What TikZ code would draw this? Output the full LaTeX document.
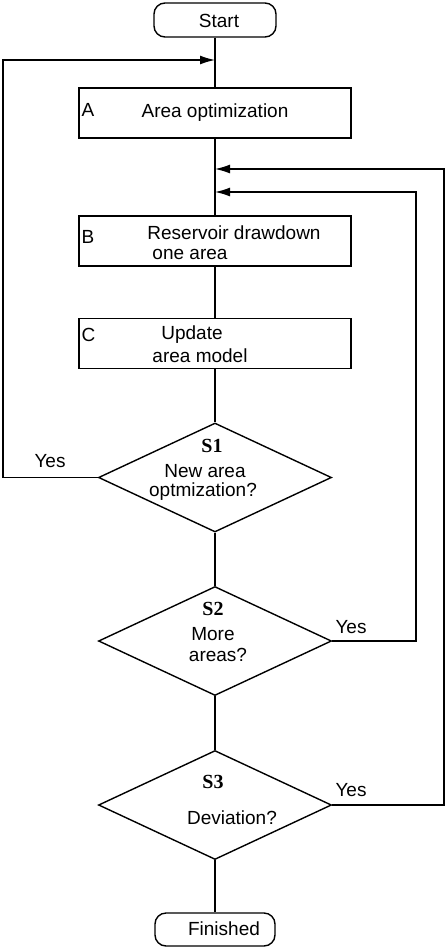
\documentclass[tikz,border=0pt]{standalone}
\usepackage{fontspec}
\setmainfont{Liberation Sans}
\newfontfamily\serifbold{Liberation Serif}
\usetikzlibrary{arrows.meta,shapes.geometric}
\begin{document}
\begin{tikzpicture}[x=1pt,y=-1pt,
  line width=1.4pt,
  every node/.style={font=\fontsize{19}{22}\selectfont},
  term/.style={draw, rectangle, rounded corners=11pt, minimum width=122pt, minimum height=34pt, inner sep=0pt},
  procbox/.style={draw, rectangle, minimum width=272pt, minimum height=50pt, inner sep=0pt},
  decision/.style={draw, diamond, minimum width=233pt, minimum height=109pt, inner sep=0pt},
  txt/.style={inner sep=0pt},
  slabel/.style={inner sep=0pt, font=\serifbold\bfseries\fontsize{20}{22}\selectfont},
  arr/.style={-{Latex[length=15pt,width=9pt]}}
]
\useasboundingbox (0,0) rectangle (446,948);
% shapes
\node[term] (start) at (215,20) {};
\node[procbox] (A) at (215,113) {};
\node[procbox] (B) at (215,241) {};
\node[procbox] (C) at (215,343.5) {};
\node[decision] (S1) at (215,477.5) {};
\node[decision] (S2) at (215,641) {};
\node[decision] (S3) at (215,805) {};
\node[term, minimum width=120pt, minimum height=33pt] (fin) at (215,929.5) {};
% junctions
\coordinate (j1) at (215,60);
\coordinate (j2) at (215,169);
\coordinate (j3) at (215,192);
\coordinate (l1) at (3,477.5);
\coordinate (r2) at (416,641);
\coordinate (r3) at (444,805);
% texts
\node[txt] (tstart) at (219,21) {Start};
\node[txt] (tfin) at (224,929) {Finished};
\node[txt, anchor=west] (la) at (81,110) {A};
\node[txt, anchor=west] (lb) at (81,237) {B};
\node[txt, anchor=west] (lc) at (81,335) {C};
\node[txt] (ta) at (215,113) {Area optimization};
\node[txt] (tb1) at (234,233) {Reservoir drawdown};
\node[txt] (tb2) at (190,254) {one area};
\node[txt] (tc1) at (192,335) {Update};
\node[txt] (tc2) at (200,356) {area model};
\node[slabel] (s1l) at (212,446) {S1};
\node[txt] (s1a) at (205,471) {New area};
\node[txt] (s1b) at (203,492) {optmization?};
\node[slabel] (s2l) at (213,609) {S2};
\node[txt] (s2a) at (213,634) {More};
\node[txt] (s2b) at (218,655) {areas?};
\node[slabel] (s3l) at (213,782) {S3};
\node[txt] (s3a) at (232,818) {Deviation?};
\node[txt] (y1) at (50,461) {Yes};
\node[txt] (y2) at (351,627) {Yes};
\node[txt] (y3) at (351,790) {Yes};
% main flow
\draw (start.south) -- (A.north);
\draw (A.south) -- (B.north);
\draw (B.south) -- (C.north);
\draw (C.south) -- (S1.north);
\draw (S1.south) -- (S2.north);
\draw (S2.south) -- (S3.north);
\draw (S3.south) -- (fin.north);
% loops
\draw[arr] (S1.west) -- (l1) |- (j1);
\draw[arr] (S2.east) -- (r2) |- (j3);
\draw[arr] (S3.east) -- (r3) |- (j2);
\end{tikzpicture}
\end{document}
